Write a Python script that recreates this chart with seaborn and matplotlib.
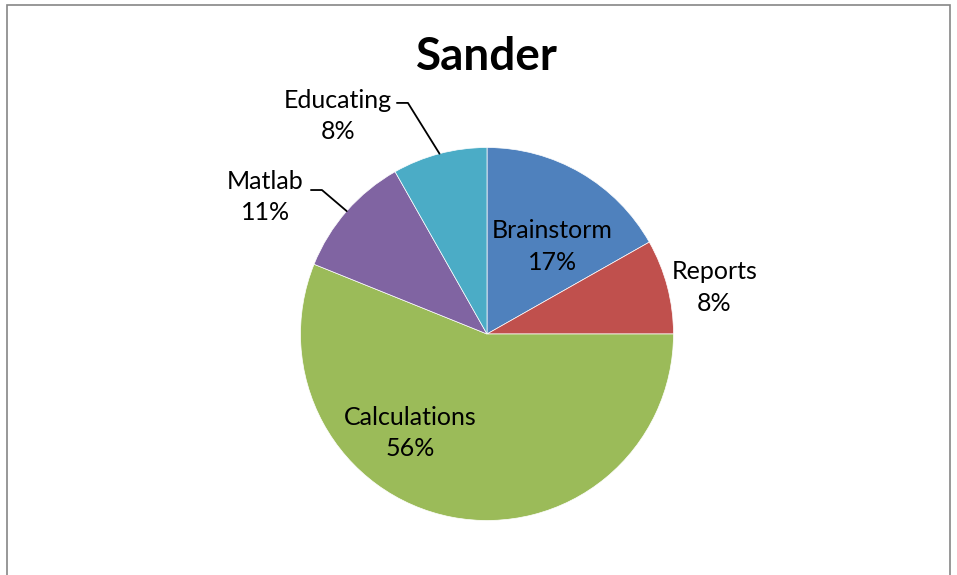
import numpy as np
import matplotlib
matplotlib.use('Agg')
import matplotlib.pyplot as plt
import seaborn as sns
from matplotlib.patches import Rectangle

# Slice shares (percent), starting at 12 o'clock, clockwise
categories = ['Brainstorm', 'Reports', 'Calculations', 'Matlab', 'Educating']
shares = [16.8, 8.2, 56.1, 10.7, 8.2]
colors = ['#4F81BD', '#C0504D', '#9BBB59', '#8064A2', '#4BACC6']

sns.set_theme(style='white')
plt.rcParams['font.family'] = ['Lato', 'DejaVu Sans']

fig = plt.figure(figsize=(9.57, 5.75), dpi=100)
W, H = 957, 575
R = 186.5          # pie radius in pixels
cx, cy = 487, 334  # pie centre in pixels
L = 1.4
ax = fig.add_axes([cx / W - L * R / W, 1 - cy / H - L * R / H, 2 * L * R / W, 2 * L * R / H])

palette = sns.color_palette(colors)
wedges, _ = ax.pie(shares, colors=palette, startangle=90, counterclock=False,
                   wedgeprops=dict(linewidth=0.5, edgecolor='white'))
ax.set_xlim(-L, L)
ax.set_ylim(-L, L)
ax.set_aspect('equal')
ax.axis('off')

# label placement: (x, y) in pie units, and the leader line (x0, x1, y) if any
label_pos = {
    'Brainstorm': (0.35, 0.47, None),
    'Reports': (1.22, 0.25, None),
    'Calculations': (-0.41, -0.53, None),
    'Matlab': (-1.19, 0.735, (-0.944, -0.885, 0.772)),
    'Educating': (-0.80, 1.17, (-0.483, -0.424, 1.239)),
}

for w, name, val in zip(wedges, categories, shares):
    x, y, lead = label_pos[name]
    ax.text(x, y, f'{name}\n{val:.0f}%', ha='center', va='center',
            fontsize=18, color='black', linespacing=1.45, clip_on=False)
    if lead is not None:
        mid = np.deg2rad((w.theta1 + w.theta2) / 2)
        ex, ey = np.cos(mid), np.sin(mid)
        ax.plot([lead[0], lead[1], ex], [lead[2], lead[2], ey], color='black',
                linewidth=1.3, clip_on=False)

fig.text(cx / W, 1 - 57 / H, 'Sander', ha='center', va='center',
         fontsize=33, fontweight='bold', color='black')

# chart frame (open at the bottom edge of the image)
fig.patches.append(Rectangle((7 / W, -0.05), (950 - 7) / W, (1 - 5 / H) + 0.05,
                             transform=fig.transFigure, fill=False,
                             edgecolor='#868686', linewidth=1.2))

fig.savefig('out.png', dpi=100)
